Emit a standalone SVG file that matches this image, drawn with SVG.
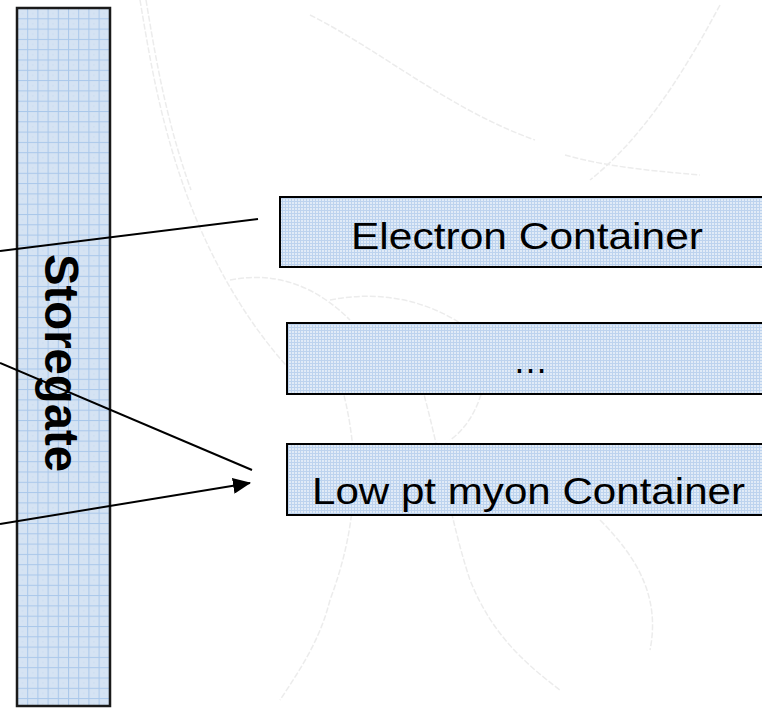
<svg xmlns="http://www.w3.org/2000/svg" width="762" height="709" viewBox="0 0 762 709">
  <defs>
    <pattern id="bigGrid" x="17" y="8" width="10.2" height="10.3" patternUnits="userSpaceOnUse">
      <rect width="10.2" height="10.3" fill="#d5e3f3"/>
      <rect x="0" y="0" width="1" height="10.3" fill="#a9c7ea"/>
      <rect x="0" y="0" width="10.2" height="1" fill="#a9c7ea"/>
      <rect x="5" y="5" width="1" height="1" fill="#c4d8f0"/>
    </pattern>
    <pattern id="fineGrid" x="0" y="0" width="3" height="3" patternUnits="userSpaceOnUse">
      <rect width="3" height="3" fill="#e1ebf7"/>
      <rect x="0" y="0" width="1" height="3" fill="#bdd3ee"/>
      <rect x="0" y="0" width="3" height="1" fill="#bdd3ee"/>
    </pattern>
    <marker id="arrow" markerWidth="18" markerHeight="16" refX="17" refY="8" orient="auto" markerUnits="userSpaceOnUse">
      <path d="M0,0 L18,8 L0,16 Z" fill="#000"/>
    </marker>
  </defs>
  <style>
    .sketch { fill: none; stroke: #ececec; stroke-width: 1.5; stroke-dasharray: 6 2; }
    .box { fill: url(#fineGrid); stroke: #000; stroke-width: 2; }
    .label { font-family: "Liberation Sans", Arial, sans-serif; font-size: 37px; fill: #000; }
    .conn { stroke: #000; stroke-width: 2; fill: none; }
  </style>
  <rect width="762" height="709" fill="#fff"/>

  <g id="background-sketch">
    <path class="sketch" d="M140,0 C150,60 160,120 185,190 C210,260 250,330 300,380"/>
    <path class="sketch" d="M146,0 C156,60 166,120 191,190"/>
    <path class="sketch" d="M310,15 C380,50 450,110 535,140"/>
    <path class="sketch" d="M720,5 C680,80 640,140 590,180"/>
    <path class="sketch" d="M565,155 C600,165 640,170 700,175"/>
    <path class="sketch" d="M330,300 C380,290 430,300 470,330 C500,360 480,420 450,440"/>
    <path class="sketch" d="M340,380 C360,450 360,520 330,600 C320,640 300,670 280,700"/>
    <path class="sketch" d="M420,380 C440,450 450,520 470,580 C490,630 520,660 560,690"/>
    <path class="sketch" d="M230,280 C280,270 320,290 350,320"/>
    <path class="sketch" d="M600,520 C640,560 660,600 650,650"/>
  </g>

  <g id="storegate">
    <rect x="17" y="8" width="93" height="698" fill="url(#bigGrid)" stroke="#1a1a1a" stroke-width="2.5"/>
    <text transform="translate(45,254) rotate(90)" font-family="Liberation Sans, Arial, sans-serif" font-size="48" font-weight="bold" textLength="218" lengthAdjust="spacingAndGlyphs" fill="#000">Storegate</text>
  </g>

  <g id="electron-container">
    <rect class="box" x="280" y="197" width="500" height="70"/>
    <text class="label" x="351" y="249" textLength="352" lengthAdjust="spacingAndGlyphs">Electron Container</text>
  </g>

  <g id="ellipsis-container">
    <rect class="box" x="287" y="323" width="493" height="71"/>
    <text class="label" x="513" y="373" textLength="35" lengthAdjust="spacingAndGlyphs">…</text>
  </g>

  <g id="lowpt-myon-container">
    <rect class="box" x="287" y="444" width="493" height="71"/>
    <text class="label" x="312" y="504" textLength="433" lengthAdjust="spacingAndGlyphs">Low pt myon Container</text>
  </g>

  <g id="connectors">
    <line class="conn" x1="0" y1="251" x2="258" y2="219"/>
    <line class="conn" x1="0" y1="363" x2="252" y2="470"/>
    <line class="conn" x1="0" y1="524" x2="250" y2="483" marker-end="url(#arrow)"/>
  </g>
</svg>
